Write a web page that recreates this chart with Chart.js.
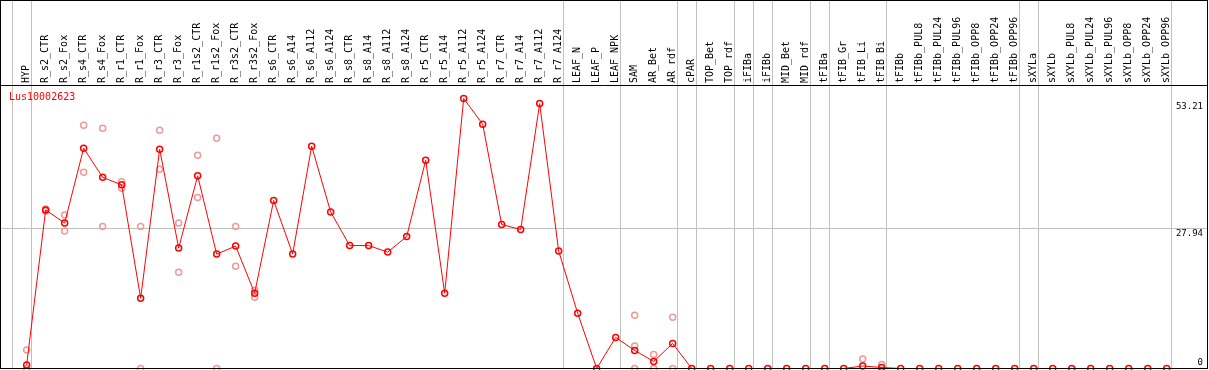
<!DOCTYPE html>
<html>
<head>
<meta charset="utf-8">
<script src="https://cdn.jsdelivr.net/npm/chart.js@4.4.0/dist/chart.umd.min.js"></script>
<style>
  body { margin: 0; background: #fff; }
</style>
</head>
<body>
<canvas id="myChart" width="1209" height="370"></canvas>
<script>
const geneId = "Lus10002623";

const categories = [
  "HYP", "R_s2_CTR", "R_s2_Fox", "R_s4_CTR", "R_s4_Fox", "R_r1_CTR", "R_r1_Fox", "R_r3_CTR", "R_r3_Fox",
  "R_r1s2_CTR", "R_r1s2_Fox", "R_r3s2_CTR", "R_r3s2_Fox",
  "R_s6_CTR", "R_s6_A14", "R_s6_A112", "R_s6_A124", "R_s8_CTR", "R_s8_A14", "R_s8_A112", "R_s8_A124",
  "R_r5_CTR", "R_r5_A14", "R_r5_A112", "R_r5_A124", "R_r7_CTR", "R_r7_A14", "R_r7_A112", "R_r7_A124",
  "LEAF_N", "LEAF_P", "LEAF_NPK", "SAM", "AR_Bet", "AR_rdf", "cPAR", "TOP_Bet", "TOP_rdf",
  "iFIBa", "iFIBb", "MID_Bet", "MID_rdf", "tFIBa", "tFIB_Gr", "tFIB_Li", "tFIB_Bi",
  "tFIBb", "tFIBb_PUL8", "tFIBb_PUL24", "tFIBb_PUL96", "tFIBb_OPP8", "tFIBb_OPP24", "tFIBb_OPP96",
  "sXYLa", "sXYLb", "sXYLb_PUL8", "sXYLb_PUL24", "sXYLb_PUL96", "sXYLb_OPP8", "sXYLb_OPP24", "sXYLb_OPP96"
];

// mean expression per sample
const means = [
  0.7, 31.6, 29.0, 43.9, 38.1, 36.6, 14.0, 43.7, 24.0, 38.4, 22.8, 24.4, 15.0,
  33.5, 22.8, 44.3, 31.2, 24.5, 24.5, 23.2, 26.3, 41.5, 15.0, 53.8, 48.7, 28.7, 27.7, 52.8, 23.4,
  11.0, 0, 6.2, 3.6, 1.4, 5.0,
  0, 0, 0, 0, 0, 0, 0, 0, 0,
  0.5, 0.2,
  0, 0, 0, 0, 0, 0, 0, 0, 0, 0, 0, 0, 0, 0, 0
];

// replicate values (null = no replicate shown)
const rep1 = [
  3.7, 31.8, 30.6, 48.5, 47.9, 37.2, 28.3, 47.5, 29.0, 42.5, 45.9, 28.3, 15.6,
  null, null, null, null, null, null, null, null, null, null,
  null, null, null, null, null, null, null, null, null,
  10.6, 2.8, 10.2,
  null, null, null, null, null, null, null, null, null,
  1.9, 0.8,
  null, null, null, null, null, null, null, null,
  null, null, null, null, null, null, null
];
const rep2 = [
  0, 31.4, 27.4, 39.1, 28.3, 35.9, 0, 39.7, 19.2, 34.1, 0, 20.4, 14.2,
  null, null, null, null, null, null, null, null, null, null,
  null, null, null, null, null, null, null, null, null,
  4.5, 0, 0,
  null, null, null, null, null, null, null, null, null,
  null, null,
  null, null, null, null, null, null, null, null,
  null, null, null, null, null, null, null
];
const rep3 = [
  null, null, null, null, null, null, null, null, null, null,
  null, null, null, null, null, null, null, null, null, null,
  null, null, null, null, null, null, null, null, null, null,
  null, null,
  0,
  null, null, null, null, null, null, null, null, null, null,
  null, null, null, null, null, null, null, null, null, null,
  null, null, null, null, null, null, null, null
];

// index of the last sample in each group (separators)
const groupEnds = [-1, 0, 28, 31, 34, 35, 37, 38, 39, 41, 42, 45, 52, 53, 60];

const yTicks = [0, 27.94, 53.21];
const yTickLabels = ["0", "27.94", "53.21"];

const X_MIN = -1.35;
const X_MAX = 62.12;
const Y_MAX = 56.5;
const SEP_SHIFT = 0.21;

const framePlugin = {
  id: "frame",
  beforeDatasetsDraw(chart) {
    const { ctx, chartArea, scales } = chart;
    ctx.save();
    ctx.strokeStyle = "#c0c0c0";
    ctx.lineWidth = 1;
    groupEnds.forEach((g) => {
      const x = Math.round(scales.x.getPixelForValue(g + SEP_SHIFT)) + 0.5;
      ctx.beginPath();
      ctx.moveTo(x, 0);
      ctx.lineTo(x, chartArea.bottom);
      ctx.stroke();
    });
    ctx.restore();
  },
  afterDraw(chart) {
    const { ctx, chartArea } = chart;
    const r = chartArea.right + 0.5;
    ctx.save();
    ctx.strokeStyle = "#000";
    ctx.lineWidth = 1;
    ctx.strokeRect(0.5, 0.5, r - 0.5, chartArea.bottom - 0.5);
    ctx.beginPath();
    ctx.moveTo(0, chartArea.top + 0.5);
    ctx.lineTo(r, chartArea.top + 0.5);
    ctx.stroke();
    ctx.fillStyle = "#ff0000";
    ctx.font = "10px 'DejaVu Sans Mono'";
    ctx.textBaseline = "middle";
    ctx.fillText(geneId, chartArea.left + 8, chartArea.top + 12);
    ctx.restore();
  }
};

const toPoints = (arr) => arr.map((v, i) => (v === null ? null : { x: i, y: v })).filter((p) => p !== null);

const ctx = document.getElementById("myChart").getContext("2d");

const myChart = new Chart(ctx, {
  type: "line",
  data: {
    datasets: [
      {
        label: geneId,
        data: toPoints(means),
        borderColor: "#ff0000",
        borderWidth: 1,
        pointRadius: 3,
        pointBorderWidth: 1.5,
        pointBorderColor: "#ff0000",
        pointBackgroundColor: "rgba(255,255,255,0)",
        tension: 0,
        clip: false,
        order: 0
      },
      {
        label: "replicates",
        data: [...toPoints(rep1), ...toPoints(rep2), ...toPoints(rep3)],
        showLine: false,
        pointRadius: 3,
        pointBorderWidth: 1.5,
        pointBorderColor: "#ee9a9a",
        pointBackgroundColor: "rgba(255,255,255,0)",
        clip: false,
        order: 1
      }
    ]
  },
  options: {
    responsive: false,
    animation: false,
    layout: { autoPadding: false, padding: { left: 1, right: 2, top: 0, bottom: 1.5 } },
    plugins: {
      legend: { display: false },
      tooltip: { enabled: false }
    },
    scales: {
      x: {
        type: "linear",
        position: "top",
        min: X_MIN,
        max: X_MAX,
        afterBuildTicks: (s) => { s.ticks = categories.map((c, i) => ({ value: i })); },
        afterFit: (s) => {
          s.height = 85;
          s.paddingLeft = 0;
          s.paddingRight = 0;
        },
        grid: { display: false, drawTicks: false },
        border: { display: false },
        ticks: {
          autoSkip: false,
          minRotation: 90,
          maxRotation: 90,
          padding: 2,
          labelOffset: 12,
          color: "#000",
          font: { family: "DejaVu Sans Mono", size: 10 },
          callback: (v) => categories[v]
        }
      },
      y: {
        type: "linear",
        position: "right",
        min: 0,
        max: Y_MAX,
        afterBuildTicks: (s) => { s.ticks = yTicks.map((v) => ({ value: v })); },
        afterFit: (s) => {
          s.width = 0;
          s.paddingTop = 0;
          s.paddingBottom = 0;
        },
        grid: {
          color: (c) => (c.tick && c.tick.value === yTicks[1] ? "#c0c0c0" : "rgba(0,0,0,0)"),
          drawTicks: false
        },
        border: { display: false },
        ticks: {
          mirror: true,
          padding: -4,
          color: "#000",
          font: { family: "DejaVu Sans Mono", size: 9 },
          callback: (v, i) => (i === 0 ? [yTickLabels[i], ""] : ["", yTickLabels[i]])
        }
      }
    }
  },
  plugins: [framePlugin]
});
</script>
</body>
</html>
